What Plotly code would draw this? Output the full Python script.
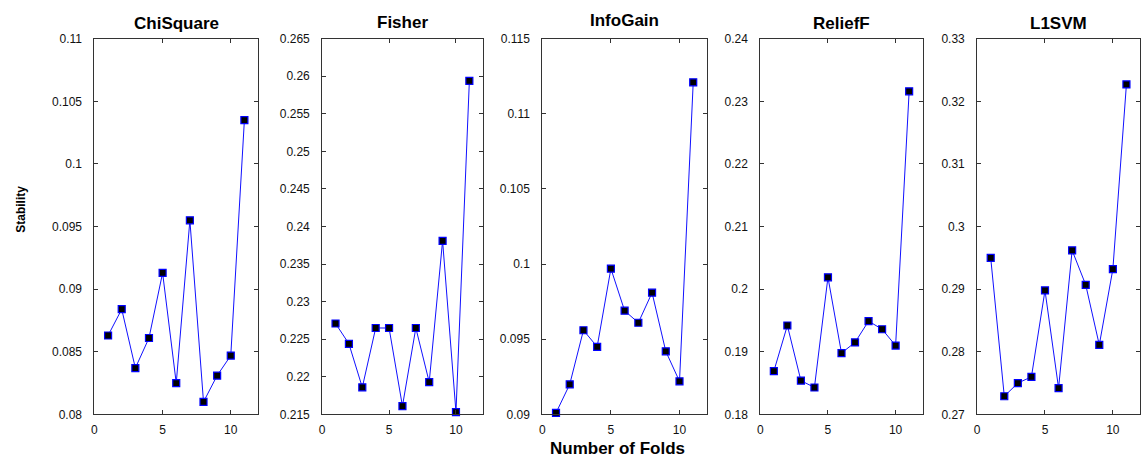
import plotly.graph_objects as go

# Number of folds on the x axis
folds = [1, 2, 3, 4, 5, 6, 7, 8, 9, 10, 11]

# Stability per feature selection method
methods = ["ChiSquare", "Fisher", "InfoGain", "ReliefF", "L1SVM"]
chisquare = [0.0863, 0.0884, 0.0837, 0.0861, 0.0913, 0.0825, 0.0955, 0.0810, 0.0831, 0.0847, 0.1035]
fisher = [0.2271, 0.2244, 0.2186, 0.2265, 0.2265, 0.2161, 0.2265, 0.2193, 0.2381, 0.2153, 0.2594]
infogain = [0.0901, 0.0920, 0.0956, 0.0945, 0.0997, 0.0969, 0.0961, 0.0981, 0.0942, 0.0922, 0.1121]
relieff = [0.1869, 0.1942, 0.1854, 0.1843, 0.2019, 0.1898, 0.1915, 0.1949, 0.1936, 0.1910, 0.2316]
l1svm = [0.2950, 0.2729, 0.2750, 0.2760, 0.2898, 0.2742, 0.2962, 0.2907, 0.2811, 0.2932, 0.3227]
series = [chisquare, fisher, infogain, relieff, l1svm]

# Axis ranges and tick labels
x_range = [0, 12]
x_tickvals = [0, 5, 10]
x_ticktext = ["0", "5", "10"]
y_ranges = [[0.08, 0.11], [0.215, 0.265], [0.09, 0.115], [0.18, 0.24], [0.27, 0.33]]
y_tickvals = [
    [0.08, 0.085, 0.09, 0.095, 0.1, 0.105, 0.11],
    [0.215, 0.22, 0.225, 0.23, 0.235, 0.24, 0.245, 0.25, 0.255, 0.26, 0.265],
    [0.09, 0.095, 0.1, 0.105, 0.11, 0.115],
    [0.18, 0.19, 0.2, 0.21, 0.22, 0.23, 0.24],
    [0.27, 0.28, 0.29, 0.3, 0.31, 0.32, 0.33],
]
y_ticktext = [
    ["0.08", "0.085", "0.09", "0.095", "0.1", "0.105", "0.11"],
    ["0.215", "0.22", "0.225", "0.23", "0.235", "0.24", "0.245", "0.25", "0.255", "0.26", "0.265"],
    ["0.09", "0.095", "0.1", "0.105", "0.11", "0.115"],
    ["0.18", "0.19", "0.2", "0.21", "0.22", "0.23", "0.24"],
    ["0.27", "0.28", "0.29", "0.3", "0.31", "0.32", "0.33"],
]

W, H = 1143, 467
FONT = "Liberation Sans, Arial, Helvetica, sans-serif"

# Panel placement in pixels
panel_px = [(91.7, 255.7), (320.0, 481.0), (540.7, 705.8), (759.3, 922.1), (976.7, 1140.0)]
top_px, bot_px = 32.7, 420.0
title_y_px = [17, 16, 14, 17, 17]

fig = go.Figure()
layout = dict(
    width=W, height=H,
    margin=dict(l=0, r=0, t=0, b=0),
    paper_bgcolor="white", plot_bgcolor="white",
    showlegend=False,
    font=dict(family=FONT, size=12, color="#111111"),
    annotations=[],
)

ydom = [1 - bot_px / H, 1 - top_px / H]

for i, (name, vals) in enumerate(zip(methods, series)):
    sfx = "" if i == 0 else str(i + 1)
    fig.add_trace(go.Scatter(
        x=folds, y=vals, mode="lines+markers",
        xaxis="x" + sfx, yaxis="y" + sfx,
        line=dict(color="#1010ff", width=1),
        marker=dict(symbol="square", size=7, color="black",
                    line=dict(color="#0000ff", width=1.2)),
        cliponaxis=False,
        name=name,
    ))
    x0, x1 = panel_px[i]
    common = dict(
        showgrid=False, zeroline=False, showline=True, linecolor="#333333",
        linewidth=1, mirror="allticks", ticks="inside", ticklen=4,
        tickcolor="#333333", tickfont=dict(family=FONT, size=12, color="#111111"),
    )
    layout["xaxis" + sfx] = dict(
        domain=[x0 / W, x1 / W], range=x_range, anchor="y" + sfx,
        tickmode="array", tickvals=x_tickvals, ticktext=x_ticktext,
        ticklabelstandoff=4, **common,
    )
    layout["yaxis" + sfx] = dict(
        domain=ydom, range=y_ranges[i], anchor="x" + sfx,
        tickmode="array", tickvals=y_tickvals[i], ticktext=y_ticktext[i],
        ticklabelstandoff=9, **common,
    )
    layout["annotations"].append(dict(
        text="<b>" + name + "</b>", xref="paper", yref="paper",
        x=(x0 + x1) / 2 / W, y=1 - title_y_px[i] / H,
        xanchor="center", yanchor="middle", showarrow=False,
        font=dict(family=FONT, size=17, color="black"),
    ))

layout["annotations"].append(dict(
    text="<b>Number of Folds</b>", xref="paper", yref="paper",
    x=616 / W, y=1 - 455 / H, xanchor="center", yanchor="middle",
    showarrow=False, font=dict(family=FONT, size=17, color="black"),
))
layout["annotations"].append(dict(
    text="<b>Stability</b>", xref="paper", yref="paper",
    x=18 / W, y=1 - 208 / H, xanchor="center", yanchor="middle",
    textangle=-90, showarrow=False, font=dict(family=FONT, size=12, color="black"),
))

fig.update_layout(**layout)
fig.write_html("out.html")
